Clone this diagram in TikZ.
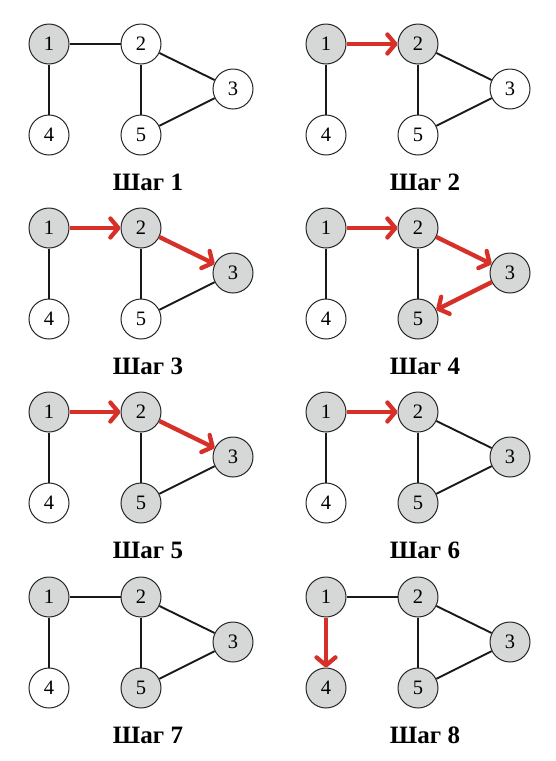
\documentclass[tikz,border=0pt]{standalone}
\usepackage{fontspec}
\setmainfont{Liberation Serif}
\usetikzlibrary{arrows.meta}
\definecolor{VisitGray}{RGB}{214,215,215}
\definecolor{WalkRed}{RGB}{214,48,40}
\tikzset{
  vertex/.style={circle,draw=black!85,line width=1pt,minimum size=40pt,
    inner sep=0pt,font=\fontsize{20.5}{24}\selectfont},
  seen/.style={vertex,fill=VisitGray},
  fresh/.style={vertex,fill=white},
  edge/.style={line width=1.9pt,draw=black!90},
  walk/.style={-{Straight Barb[length=8pt,width=19pt,round]},line width=4.3pt,draw=WalkRed},
  steplabel/.style={anchor=base,font=\fontsize{25}{28}\selectfont\bfseries}
}
% #1 shift, #2 name, #3 step, #4-#8 styles of vertices 1..5
\newcommand{\bfsgraph}[8]{%
  \begin{scope}[shift={#1}]
    \node[#4] (#2-1) at (0,0) {1};
    \node[#5] (#2-2) at (92,0) {2};
    \node[#6] (#2-3) at (184,-45) {3};
    \node[#7] (#2-4) at (0,-91) {4};
    \node[#8] (#2-5) at (92,-91) {5};
    \node[steplabel] (#2-lbl) at (99,-146) {Шаг #3};
  \end{scope}}

\begin{document}
\begin{tikzpicture}[x=1pt,y=1pt]
  \useasboundingbox (0,0) rectangle (555,-761);
  % step 1
  \bfsgraph{(49,-44)}{a}{1}{seen}{fresh}{fresh}{fresh}{fresh}
  \draw[edge] (a-1) -- (a-2);
  \draw[edge] (a-1) -- (a-4);
  \draw[edge] (a-2) -- (a-5);
  \draw[edge] (a-2) -- (a-3);
  \draw[edge] (a-3) -- (a-5);
  % step 2
  \bfsgraph{(326,-44)}{b}{2}{seen}{seen}{fresh}{fresh}{fresh}
  \draw[walk] (b-1) -- (b-2);
  \draw[edge] (b-1) -- (b-4);
  \draw[edge] (b-2) -- (b-5);
  \draw[edge] (b-2) -- (b-3);
  \draw[edge] (b-3) -- (b-5);
  % step 3
  \bfsgraph{(49,-228)}{c}{3}{seen}{seen}{seen}{fresh}{fresh}
  \draw[walk] (c-1) -- (c-2);
  \draw[walk] (c-2) -- (c-3);
  \draw[edge] (c-1) -- (c-4);
  \draw[edge] (c-2) -- (c-5);
  \draw[edge] (c-3) -- (c-5);
  % step 4
  \bfsgraph{(326,-228)}{d}{4}{seen}{seen}{seen}{fresh}{seen}
  \draw[walk] (d-1) -- (d-2);
  \draw[walk] (d-2) -- (d-3);
  \draw[walk] (d-3) -- (d-5);
  \draw[edge] (d-1) -- (d-4);
  \draw[edge] (d-2) -- (d-5);
  % step 5
  \bfsgraph{(49,-412)}{e}{5}{seen}{seen}{seen}{fresh}{seen}
  \draw[walk] (e-1) -- (e-2);
  \draw[walk] (e-2) -- (e-3);
  \draw[edge] (e-1) -- (e-4);
  \draw[edge] (e-2) -- (e-5);
  \draw[edge] (e-3) -- (e-5);
  % step 6
  \bfsgraph{(326,-412)}{f}{6}{seen}{seen}{seen}{fresh}{seen}
  \draw[walk] (f-1) -- (f-2);
  \draw[edge] (f-1) -- (f-4);
  \draw[edge] (f-2) -- (f-3);
  \draw[edge] (f-2) -- (f-5);
  \draw[edge] (f-3) -- (f-5);
  % step 7
  \bfsgraph{(49,-597)}{g}{7}{seen}{seen}{seen}{fresh}{seen}
  \draw[edge] (g-1) -- (g-2);
  \draw[edge] (g-1) -- (g-4);
  \draw[edge] (g-2) -- (g-3);
  \draw[edge] (g-2) -- (g-5);
  \draw[edge] (g-3) -- (g-5);
  % step 8
  \bfsgraph{(326,-597)}{h}{8}{seen}{seen}{seen}{seen}{seen}
  \draw[walk] (h-1) -- (h-4);
  \draw[edge] (h-1) -- (h-2);
  \draw[edge] (h-2) -- (h-3);
  \draw[edge] (h-2) -- (h-5);
  \draw[edge] (h-3) -- (h-5);
\end{tikzpicture}
\end{document}
